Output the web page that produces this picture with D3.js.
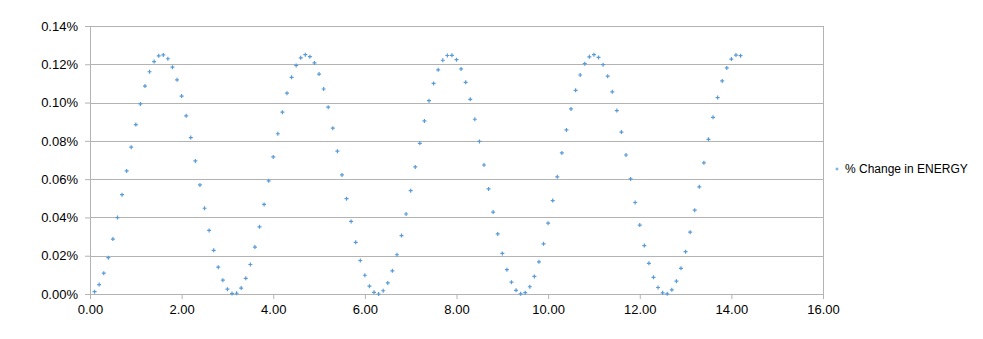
<!DOCTYPE html>
<html>
<head>
<meta charset="utf-8">
<script src="https://cdn.jsdelivr.net/npm/d3@7"></script>
<style>
  body { margin: 0; background: #fff; }
  svg { display: block; font-family: "Liberation Sans", Arial, sans-serif; }
</style>
</head>
<body>
<div id="chart"></div>
<script>
const seriesName = '% Change in ENERGY';
const xTicks = [0, 2, 4, 6, 8, 10, 12, 14, 16];
const yTicks = [0, 0.02, 0.04, 0.06, 0.08, 0.10, 0.12, 0.14];

// x values: 0.1 ... 14.2 in steps of 0.1
const xValues = [
  0.1, 0.2, 0.3, 0.4, 0.5, 0.6, 0.7, 0.8, 0.9, 1.0,
  1.1, 1.2, 1.3, 1.4, 1.5, 1.6, 1.7, 1.8, 1.9, 2.0,
  2.1, 2.2, 2.3, 2.4, 2.5, 2.6, 2.7, 2.8, 2.9, 3.0,
  3.1, 3.2, 3.3, 3.4, 3.5, 3.6, 3.7, 3.8, 3.9, 4.0,
  4.1, 4.2, 4.3, 4.4, 4.5, 4.6, 4.7, 4.8, 4.9, 5.0,
  5.1, 5.2, 5.3, 5.4, 5.5, 5.6, 5.7, 5.8, 5.9, 6.0,
  6.1, 6.2, 6.3, 6.4, 6.5, 6.6, 6.7, 6.8, 6.9, 7.0,
  7.1, 7.2, 7.3, 7.4, 7.5, 7.6, 7.7, 7.8, 7.9, 8.0,
  8.1, 8.2, 8.3, 8.4, 8.5, 8.6, 8.7, 8.8, 8.9, 9.0,
  9.1, 9.2, 9.3, 9.4, 9.5, 9.6, 9.7, 9.8, 9.9, 10.0,
  10.1, 10.2, 10.3, 10.4, 10.5, 10.6, 10.7, 10.8, 10.9, 11.0,
  11.1, 11.2, 11.3, 11.4, 11.5, 11.6, 11.7, 11.8, 11.9, 12.0,
  12.1, 12.2, 12.3, 12.4, 12.5, 12.6, 12.7, 12.8, 12.9, 13.0,
  13.1, 13.2, 13.3, 13.4, 13.5, 13.6, 13.7, 13.8, 13.9, 14.0,
  14.1, 14.2
];

// % change in energy (in percent)
const energyChange = [
  0.0012, 0.0049, 0.0109, 0.0190, 0.0287, 0.0399, 0.0519, 0.0643, 0.0767, 0.0885,
  0.0993, 0.1086, 0.1161, 0.1214, 0.1244, 0.1249, 0.1229, 0.1185, 0.1119, 0.1034,
  0.0931, 0.0817, 0.0695, 0.0570, 0.0448, 0.0332, 0.0228, 0.0140, 0.0072, 0.0025,
  0.0002, 0.0004, 0.0031, 0.0082, 0.0154, 0.0245, 0.0351, 0.0468, 0.0591, 0.0716,
  0.0837, 0.0950, 0.1049, 0.1132, 0.1194, 0.1234, 0.1250, 0.1240, 0.1207, 0.1149,
  0.1071, 0.0976, 0.0866, 0.0746, 0.0622, 0.0498, 0.0379, 0.0270, 0.0175, 0.0098,
  0.0041, 0.0009, 0.0000, 0.0017, 0.0058, 0.0121, 0.0205, 0.0305, 0.0418, 0.0540,
  0.0664, 0.0787, 0.0904, 0.1010, 0.1100, 0.1171, 0.1221, 0.1246, 0.1247, 0.1224,
  0.1176, 0.1106, 0.1017, 0.0913, 0.0797, 0.0674, 0.0549, 0.0428, 0.0314, 0.0212,
  0.0127, 0.0062, 0.0019, 0.0001, 0.0007, 0.0038, 0.0092, 0.0168, 0.0262, 0.0370,
  0.0488, 0.0612, 0.0737, 0.0857, 0.0967, 0.1064, 0.1144, 0.1203, 0.1239, 0.1250,
  0.1236, 0.1198, 0.1138, 0.1056, 0.0958, 0.0846, 0.0726, 0.0601, 0.0478, 0.0360,
  0.0253, 0.0160, 0.0087, 0.0034, 0.0006, 0.0001, 0.0022, 0.0067, 0.0134, 0.0221,
  0.0323, 0.0438, 0.0560, 0.0685, 0.0808, 0.0923, 0.1026, 0.1113, 0.1181, 0.1227,
  0.1248, 0.1245
];

const data = xValues.map((x, i) => ({ x, y: energyChange[i] }));

const width = 983;
const height = 339;
const margin = { top: 26, right: 160, bottom: 45, left: 90 };
const plotW = width - margin.left - margin.right;
const plotH = height - margin.top - margin.bottom;

const gridColor = '#b3b3b3';
const pointColor = '#5b9bd5';

const svg = d3.select('#chart').append('svg')
  .attr('width', width)
  .attr('height', height);

const g = svg.append('g')
  .attr('transform', `translate(${margin.left},${margin.top})`);

const x = d3.scaleLinear().domain([0, 16]).range([0, plotW]);
const y = d3.scaleLinear().domain([0, 0.14]).range([plotH, 0]);

// horizontal gridlines
g.append('g')
  .selectAll('line')
  .data(yTicks.slice(1))
  .enter()
  .append('line')
  .attr('x1', 0)
  .attr('x2', plotW)
  .attr('y1', (d) => Math.round(y(d)) + 0.5)
  .attr('y2', (d) => Math.round(y(d)) + 0.5)
  .attr('stroke', gridColor);

// right border of plot area
g.append('line')
  .attr('x1', Math.round(plotW) + 0.5)
  .attr('x2', Math.round(plotW) + 0.5)
  .attr('y1', 0)
  .attr('y2', plotH)
  .attr('stroke', gridColor);

const yAxis = g.append('g')
  .call(d3.axisLeft(y).tickValues(yTicks).tickSize(5).tickPadding(7)
    .tickFormat((d) => `${d.toFixed(2)}%`));

const xAxis = g.append('g')
  .attr('transform', `translate(0,${plotH})`)
  .call(d3.axisBottom(x).tickValues(xTicks).tickSize(5).tickPadding(6)
    .tickFormat((d) => d.toFixed(2)));

[yAxis, xAxis].forEach((ax) => {
  ax.select('.domain').attr('stroke', gridColor).attr('stroke-width', 1);
  ax.selectAll('.tick line').attr('stroke', gridColor);
  ax.selectAll('.tick text')
    .attr('fill', '#000')
    .style('font-size', '13px')
    .style('font-family', '"Liberation Sans", Arial, sans-serif');
});

// plus-shaped markers
const plus = (s) => `M${-s},0H${s}M0,${-s}V${s}`;

g.append('g')
  .selectAll('path')
  .data(data)
  .enter()
  .append('path')
  .attr('transform', (d) => `translate(${x(d.x)},${y(d.y)})`)
  .attr('d', plus(2))
  .attr('stroke', pointColor)
  .attr('stroke-width', 1.2);

// legend
const legend = svg.append('g')
  .attr('transform', `translate(${margin.left + plotW + 14},169)`);

legend.append('path')
  .attr('d', plus(1.5))
  .attr('stroke', pointColor)
  .attr('stroke-width', 1);

legend.append('text')
  .attr('x', 8)
  .attr('dy', '0.35em')
  .style('font-size', '12px')
  .text(seriesName);
</script>
</body>
</html>
